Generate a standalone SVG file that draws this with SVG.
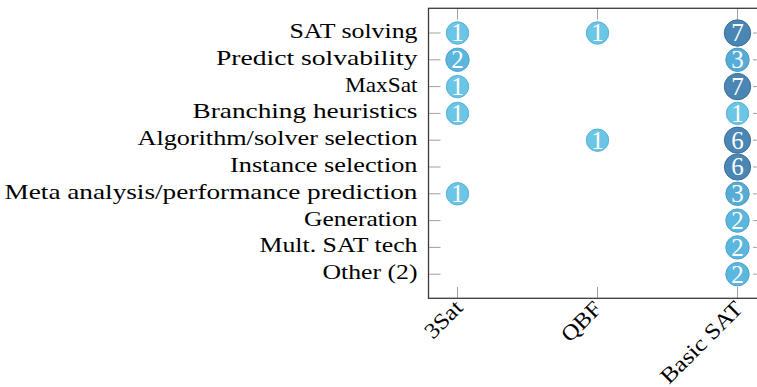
<svg xmlns="http://www.w3.org/2000/svg" width="757" height="387" viewBox="0 0 757 387">
<style>
.lbl{font-family:"Liberation Serif","Times New Roman",serif;font-size:22px;fill:#000;text-anchor:end}
.tick{stroke:#a0a0a0;stroke-width:1;fill:none}
.frame{stroke:#3a3a3a;stroke-width:1.3;fill:none}
.b circle{stroke-width:1}
.b text{font-family:"Liberation Serif","Times New Roman",serif;font-size:25px;fill:#fff;text-anchor:middle}
.v1 circle{fill:#6bc5e5;stroke:#58b0d5}
.v2 circle{fill:#5cb7de;stroke:#4ea3cc}
.v3 circle{fill:#57acd7;stroke:#4a98c3}
.v6 circle{fill:#4a87b5;stroke:#3a6e9b}
.v7 circle{fill:#4a86b4;stroke:#3a6d9a}
</style>
<rect width="757" height="387" fill="#fff"/>
<g id="axis">
<g id="ticks">
<path class="tick" d="M428.5 33H440.5M428.5 59.8H440.5M428.5 86.6H440.5M428.5 113.4H440.5M428.5 140.2H440.5M428.5 167H440.5M428.5 193.8H440.5M428.5 220.6H440.5M428.5 247.4H440.5M428.5 274.2H440.5"/>
<path class="tick" d="M753 33H766M753 59.8H766M753 86.6H766M753 113.4H766M753 140.2H766M753 167H766M753 193.8H766M753 220.6H766M753 247.4H766M753 274.2H766"/>
<path class="tick" d="M457.5 8.3V19.5M597.5 8.3V19.5M737.5 8.3V19.5M457.5 287V298.3M597.5 287V298.3M737.5 287V298.3"/>
</g>
<rect class="frame" x="428.5" y="8.3" width="340" height="290"/>
</g>
<g id="y-labels">
<text class="lbl" x="417.5" y="38" textLength="128" lengthAdjust="spacingAndGlyphs">SAT solving</text>
<text class="lbl" x="417.5" y="64.8" textLength="201.5" lengthAdjust="spacingAndGlyphs">Predict solvability</text>
<text class="lbl" x="417.5" y="91.6" textLength="72.5" lengthAdjust="spacingAndGlyphs">MaxSat</text>
<text class="lbl" x="417.5" y="118.4" textLength="225" lengthAdjust="spacingAndGlyphs">Branching heuristics</text>
<text class="lbl" x="417.5" y="145.2" textLength="280" lengthAdjust="spacingAndGlyphs">Algorithm/solver selection</text>
<text class="lbl" x="417.5" y="172" textLength="187.5" lengthAdjust="spacingAndGlyphs">Instance selection</text>
<text class="lbl" x="417.5" y="198.8" textLength="413" lengthAdjust="spacingAndGlyphs">Meta analysis/performance prediction</text>
<text class="lbl" x="417.5" y="225.6" textLength="113.5" lengthAdjust="spacingAndGlyphs">Generation</text>
<text class="lbl" x="417.5" y="252.4" textLength="158" lengthAdjust="spacingAndGlyphs">Mult. SAT tech</text>
<text class="lbl" x="417.5" y="279.2" textLength="95" lengthAdjust="spacingAndGlyphs">Other (2)</text>
</g>
<g id="x-labels">
<text class="lbl" transform="translate(464 309) rotate(-45)" textLength="44" lengthAdjust="spacingAndGlyphs">3Sat</text>
<text class="lbl" transform="translate(603 310) rotate(-45)" textLength="47" lengthAdjust="spacingAndGlyphs">QBF</text>
<text class="lbl" transform="translate(744 310) rotate(-45)" textLength="106" lengthAdjust="spacingAndGlyphs">Basic SAT</text>
</g>
<g id="bubbles">
<g id="bubble-sat-3sat" class="b v1"><circle cx="457.5" cy="33" r="11.2"/><text x="457.5" y="41.4">1</text></g>
<g id="bubble-sat-qbf" class="b v1"><circle cx="597.5" cy="33" r="11.2"/><text x="597.5" y="41.4">1</text></g>
<g id="bubble-sat-basic" class="b v7"><circle cx="737.5" cy="33" r="13.2"/><text x="737.5" y="41.4">7</text></g>
<g id="bubble-predict-3sat" class="b v2"><circle cx="457.5" cy="59.8" r="11.7"/><text x="457.5" y="68.2">2</text></g>
<g id="bubble-predict-basic" class="b v3"><circle cx="737.5" cy="59.8" r="11.7"/><text x="737.5" y="68.2">3</text></g>
<g id="bubble-maxsat-3sat" class="b v1"><circle cx="457.5" cy="86.6" r="11.2"/><text x="457.5" y="95">1</text></g>
<g id="bubble-maxsat-basic" class="b v7"><circle cx="737.5" cy="86.6" r="13.2"/><text x="737.5" y="95">7</text></g>
<g id="bubble-branch-3sat" class="b v1"><circle cx="457.5" cy="113.4" r="11.2"/><text x="457.5" y="121.8">1</text></g>
<g id="bubble-branch-basic" class="b v1"><circle cx="737.5" cy="113.4" r="11.2"/><text x="737.5" y="121.8">1</text></g>
<g id="bubble-algo-qbf" class="b v1"><circle cx="597.5" cy="140.2" r="11.2"/><text x="597.5" y="148.6">1</text></g>
<g id="bubble-algo-basic" class="b v6"><circle cx="737.5" cy="140.2" r="13.1"/><text x="737.5" y="148.6">6</text></g>
<g id="bubble-instance-basic" class="b v6"><circle cx="737.5" cy="167" r="13.1"/><text x="737.5" y="175.4">6</text></g>
<g id="bubble-meta-3sat" class="b v1"><circle cx="457.5" cy="193.8" r="11.2"/><text x="457.5" y="202.2">1</text></g>
<g id="bubble-meta-basic" class="b v3"><circle cx="737.5" cy="193.8" r="11.7"/><text x="737.5" y="202.2">3</text></g>
<g id="bubble-gen-basic" class="b v2"><circle cx="737.5" cy="220.6" r="11.7"/><text x="737.5" y="229">2</text></g>
<g id="bubble-mult-basic" class="b v2"><circle cx="737.5" cy="247.4" r="11.7"/><text x="737.5" y="255.8">2</text></g>
<g id="bubble-other-basic" class="b v2"><circle cx="737.5" cy="274.2" r="11.7"/><text x="737.5" y="282.6">2</text></g>
</g>
</svg>
